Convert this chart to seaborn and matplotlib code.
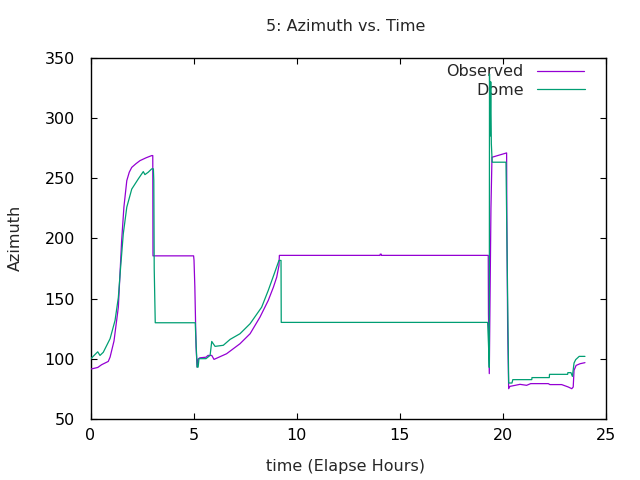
import matplotlib
matplotlib.use("Agg")
import matplotlib.pyplot as plt
import seaborn as sns
import pandas as pd
from matplotlib.lines import Line2D

# ---- data ----
obs_t = [0.0, 0.1, 0.35, 0.54, 0.86, 0.95, 1.14, 1.35, 1.51, 1.62, 1.76, 1.88, 2.0, 2.2, 2.4,
         2.7, 2.97, 3.02, 3.03, 5.0, 5.02, 5.06, 5.12, 5.17, 5.22, 5.3, 5.6, 5.7, 5.88, 5.99,
         6.6, 7.25, 7.74, 8.22, 8.62, 8.87, 9.03, 9.14, 9.16, 14.04, 14.05, 14.1, 14.11, 19.29,
         19.3, 19.34, 19.42, 19.47, 20.18, 20.19, 20.23, 20.28, 20.34, 20.83, 21.15, 21.35,
         22.2, 22.28, 22.85, 23.17, 23.34, 23.41, 23.45, 23.55, 23.74, 23.98]
obs_az = [91.7, 92.0, 93.0, 95.3, 98.0, 101.6, 115.0, 143.0, 198.0, 226.0, 248.0, 255.0, 259.0,
          262.0, 264.6, 267.0, 268.8, 268.8, 185.6, 185.6, 182.0, 160.0, 110.0, 93.3, 100.0,
          101.0, 101.5, 103.0, 103.0, 99.7, 104.4, 112.7, 121.0, 134.8, 148.6, 159.6, 167.9,
          177.6, 186.0, 186.0, 187.0, 187.0, 186.0, 186.0, 137.6, 87.9, 225.0, 267.4, 271.0,
          220.0, 126.5, 75.4, 77.3, 79.0, 78.2, 79.6, 79.6, 78.8, 78.8, 76.8, 75.4, 76.8, 90.6,
          94.7, 96.1, 97.0]

dome_t = [0.0, 0.35, 0.46, 0.62, 0.95, 1.19, 1.35, 1.46, 1.59, 1.76, 2.0, 2.32, 2.56, 2.64,
          2.8, 2.97, 3.05, 3.07, 3.09, 3.14, 5.08, 5.1, 5.17, 5.22, 5.26, 5.6, 5.8, 5.88, 6.04,
          6.44, 6.77, 7.25, 7.74, 8.3, 8.62, 8.91, 9.14, 9.24, 9.25, 19.26, 19.3, 19.34, 19.35,
          19.38, 19.41, 19.44, 19.48, 20.15, 20.28, 20.44, 20.48, 21.4, 21.41, 22.25, 22.26,
          23.14, 23.15, 23.3, 23.37, 23.45, 23.53, 23.7, 23.98]
dome_az = [100.0, 106.0, 103.0, 105.6, 116.9, 132.0, 151.0, 176.0, 203.9, 226.0, 241.0, 249.5,
           255.5, 253.0, 255.0, 257.8, 257.8, 248.0, 175.0, 130.1, 130.1, 121.0, 93.3, 93.3,
           100.3, 100.3, 103.0, 114.6, 110.5, 111.4, 116.3, 121.0, 129.3, 143.0, 156.9, 170.7,
           181.8, 181.8, 130.4, 130.4, 112.7, 93.0, 336.5, 285.0, 330.0, 278.5, 263.3, 263.3,
           80.1, 80.1, 82.9, 82.9, 84.6, 84.6, 87.3, 87.3, 88.7, 88.7, 85.6, 96.7, 99.5, 102.2,
           102.2]

series_names = ["Observed", "Dome"]
colors = {"Observed": "#9400D3", "Dome": "#009E73"}

x_ticks = [0, 5, 10, 15, 20, 25]
y_ticks = [50, 100, 150, 200, 250, 300, 350]

df = pd.concat([
    pd.DataFrame({"t": obs_t, "az": obs_az, "series": "Observed"}),
    pd.DataFrame({"t": dome_t, "az": dome_az, "series": "Dome"}),
], ignore_index=True)

sns.set_style("ticks")
plt.rcParams["font.family"] = ["DejaVu Sans"]
FS = 11.5

fig = plt.figure(figsize=(6.4, 4.8), dpi=100)
ax = fig.add_axes([90.5 / 640, 1 - 419.3 / 480, (606 - 90.5) / 640, (419.3 - 57.7) / 480])

sns.lineplot(data=df, x="t", y="az", hue="series", hue_order=series_names, palette=colors,
             estimator=None, sort=False, linewidth=0.9, legend=False, ax=ax, zorder=3)

ax.set_xlim(0, 25)
ax.set_ylim(50, 350)
ax.set_xticks(x_ticks)
ax.set_yticks(y_ticks)
ax.set_xlabel("")
ax.set_ylabel("")
for s in ax.spines.values():
    s.set_visible(True)
    s.set_linewidth(1.0)
    s.set_color("black")
ax.tick_params(axis="both", direction="in", length=4, width=0.8, top=True, right=True,
               labelsize=FS, colors="black")
ax.tick_params(axis="x", pad=6.5)
ax.tick_params(axis="y", pad=11)

fig.text(346 / 640, 1 - 26.7 / 480, "5: Azimuth vs. Time", ha="center", va="center", fontsize=FS)
fig.text(345 / 640, 1 - 466 / 480, "time (Elapse Hours)", ha="center", va="center", fontsize=FS)
fig.text(15 / 640, 1 - 238 / 480, "Azimuth", ha="center", va="center", rotation=90, fontsize=FS)

handles = [Line2D([], [], color=colors[n], lw=0.9) for n in series_names]
leg = ax.legend(handles, series_names, loc="upper right", markerfirst=False, frameon=False,
                fontsize=FS, handlelength=3.0, handletextpad=0.8, labelspacing=0.2,
                borderpad=0, borderaxespad=0,
                bbox_to_anchor=(584.5 / 640, 1 - 64.5 / 480), bbox_transform=fig.transFigure)
leg.set_zorder(1)

fig.savefig("out.png", dpi=100)
